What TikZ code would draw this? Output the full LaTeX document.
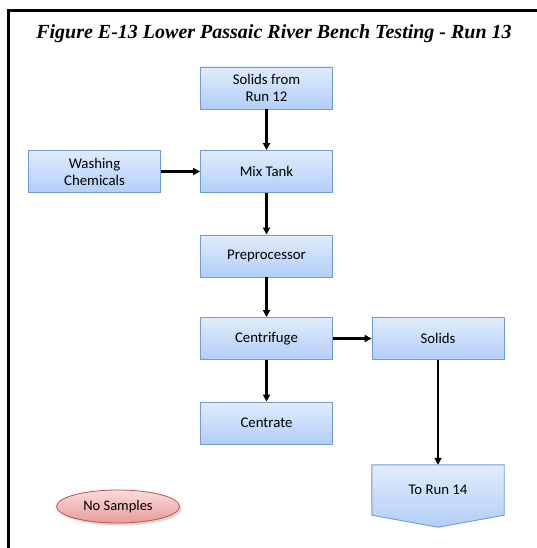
\documentclass[tikz,border=0pt]{standalone}
\usepackage{fontspec}
\setmainfont{Carlito}
\newfontfamily\titlefont{Liberation Serif}
\usetikzlibrary{shapes.geometric,shadows,arrows.meta,calc}
\definecolor{boxtop}{HTML}{E1ECFC}
\definecolor{boxbot}{HTML}{B2CEF8}
\definecolor{boxline}{HTML}{6F9CD6}
\definecolor{pinktop}{HTML}{FADCDC}
\definecolor{pinkbot}{HTML}{E89A98}
\definecolor{pinkline}{HTML}{C0504D}
\tikzset{
  procbox/.style={draw=boxline, line width=0.9pt, top color=boxtop, bottom color=boxbot,
    minimum width=132pt, minimum height=42pt, align=center, inner sep=0pt,
    font=\fontsize{14.8}{17}\selectfont},
  flow/.style={-{Triangle[length=7pt,width=7pt]}, line width=2.2pt}
}
\begin{document}
\begin{tikzpicture}[x=1pt,y=-1pt]
\useasboundingbox (0,0) rectangle (537,548);
\fill[white] (0,0) rectangle (537,548);
% frame
\draw[line width=3pt] (8.5,548) -- (8.5,11) -- (537,11);
\node[font=\titlefont\bfseries\itshape\fontsize{20}{22}\selectfont] (title) at (274,34) {Figure E-13 Lower Passaic River Bench Testing - Run 13};
% process boxes
\node[procbox] (src) at (266.5,88) {Solids from\\ Run 12};
\node[procbox] (mix) at (266.5,171.5) {Mix Tank};
\node[procbox] (wash) at (94.5,171.5) {Washing\\ Chemicals};
\node[procbox] (pre) at (266.5,256) {Preprocessor};
\node[procbox] (cent) at (266.5,338.5) {Centrifuge};
\node[procbox] (solids) at (438,338.5) {Solids};
\node[procbox] (centrate) at (266.5,423) {Centrate};
% off-page connector
\node[minimum width=132pt, minimum height=50pt, inner sep=0pt] (torun) at (438,490) {};
\shade[draw=boxline, line width=0.9pt, top color=boxtop, bottom color=boxbot]
  (torun.north west) -- (torun.north east) -- (torun.south east)
  -- ($(torun.south)+(0,12)$) -- (torun.south west) -- cycle;
\node[font=\fontsize{14.8}{17}\selectfont] at (torun.center) {To Run 14};
\node[ellipse, draw=pinkline, line width=0.8pt, top color=pinktop, bottom color=pinkbot,
  minimum width=123pt, minimum height=33pt, drop shadow={opacity=0.3},
  font=\fontsize{14.5}{17}\selectfont] (nosamp) at (118,506.5) {No Samples};
% connectors
\draw[flow] (src) -- (mix);
\draw[flow] (wash) -- (mix);
\draw[flow] (mix) -- (pre);
\draw[flow] (pre) -- (cent);
\draw[flow] (cent) -- (solids);
\draw[flow] (cent) -- (centrate);
\draw[flow] (solids) -- (torun.north);
\end{tikzpicture}
\end{document}
